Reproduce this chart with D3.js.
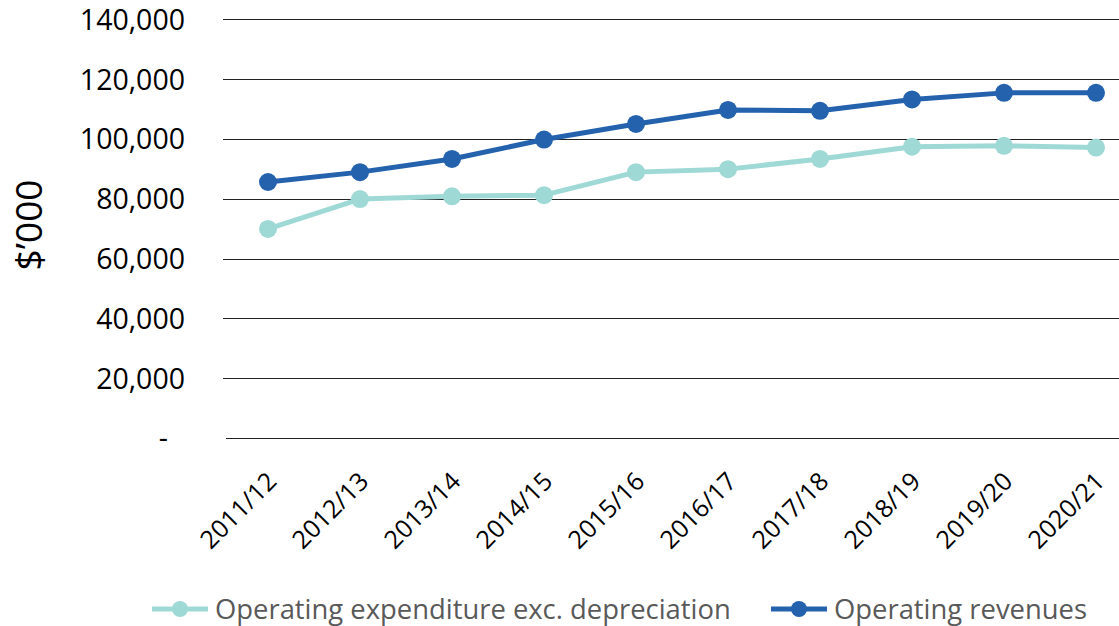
<!DOCTYPE html>
<html>
<head>
<meta charset="utf-8">
<script src="https://cdn.jsdelivr.net/npm/d3@7"></script>
<style>
  body { margin: 0; background: #fff; }
  svg { display: block; }
</style>
</head>
<body>
<script>
// data
const years = ["2011/12", "2012/13", "2013/14", "2014/15", "2015/16",
               "2016/17", "2017/18", "2018/19", "2019/20", "2020/21"];
const expenditure = [69900, 79900, 80800, 81200, 88900, 89900, 93300, 97400, 97700, 97100];
const revenues = [85600, 88900, 93300, 99800, 105000, 109700, 109400, 113200, 115400, 115400];
const yTicks = [0, 20000, 40000, 60000, 80000, 100000, 120000, 140000];
const seriesNames = ["Operating expenditure exc. depreciation", "Operating revenues"];
const seriesColors = ["#9fd9d6", "#2462ae"];

const width = 1119, height = 626;
const font = "'Open Sans', sans-serif";

const svg = d3.select("body").append("svg")
  .attr("width", width).attr("height", height);

// scales
const x = d3.scaleBand().domain(years).range([222, 1142]);
const y = d3.scaleLinear().domain([0, 140000]).range([438, 19.3]);

// gridlines
const grid = svg.append("g");
grid.selectAll("line")
  .data(yTicks)
  .join("line")
  .attr("x1", d => d === 0 ? 226 : 223)
  .attr("x2", width)
  .attr("y1", d => Math.round(y(d)) + 0.5)
  .attr("y2", d => Math.round(y(d)) + 0.5)
  .attr("stroke", "#222")
  .attr("stroke-width", 1);

// y axis labels
const yAxis = svg.append("g")
  .attr("transform", "translate(185,0)")
  .call(d3.axisLeft(y).tickValues(yTicks).tickSize(0).tickPadding(0)
    .tickFormat(d => d === 0 ? "-" : d3.format(",")(d)));
yAxis.select(".domain").remove();
yAxis.selectAll("text")
  .attr("font-family", font)
  .attr("font-size", 28.5)
  .attr("fill", "#000")
  .attr("dy", "0.35em")
  .attr("dx", d => d === 0 ? -17 : 0);

// y title
svg.append("text")
  .attr("transform", "translate(42,225) rotate(-90)")
  .attr("text-anchor", "middle")
  .attr("font-family", font)
  .attr("font-size", 37)
  .attr("fill", "#000")
  .text("$\u2019000");

// x labels
svg.append("g")
  .selectAll("text")
  .data(years)
  .join("text")
  .attr("transform", d => `translate(${x(d) + x.bandwidth() / 2 + 10},483) rotate(-45)`)
  .attr("text-anchor", "end")
  .attr("font-family", font)
  .attr("font-size", 25)
  .attr("fill", "#000")
  .text(d => d);

// lines and markers
const cx = d => x(d) + x.bandwidth() / 2;
const seriesData = [expenditure, revenues];
const line = d3.line().x((d, i) => cx(years[i])).y(d => y(d));

seriesData.forEach((vals, k) => {
  svg.append("path")
    .attr("d", line(vals))
    .attr("fill", "none")
    .attr("stroke", seriesColors[k])
    .attr("stroke-width", 5)
    .attr("stroke-linejoin", "round");
  svg.append("g")
    .selectAll("circle")
    .data(vals)
    .join("circle")
    .attr("cx", (d, i) => cx(years[i]))
    .attr("cy", d => y(d))
    .attr("r", 9)
    .attr("fill", seriesColors[k]);
});

// legend
const legendX = [152, 771];
const legend = svg.append("g");
seriesNames.forEach((name, k) => {
  const g = legend.append("g").attr("transform", `translate(${legendX[k]},609)`);
  g.append("line")
    .attr("x1", 0).attr("x2", 56)
    .attr("stroke", seriesColors[k]).attr("stroke-width", 5);
  g.append("circle").attr("cx", 28).attr("r", 8).attr("fill", seriesColors[k]);
  g.append("text")
    .attr("x", 63).attr("dy", "0.35em")
    .attr("font-family", font)
    .attr("font-size", 27.4)
    .attr("fill", "#595959")
    .text(name);
});
</script>
</body>
</html>
